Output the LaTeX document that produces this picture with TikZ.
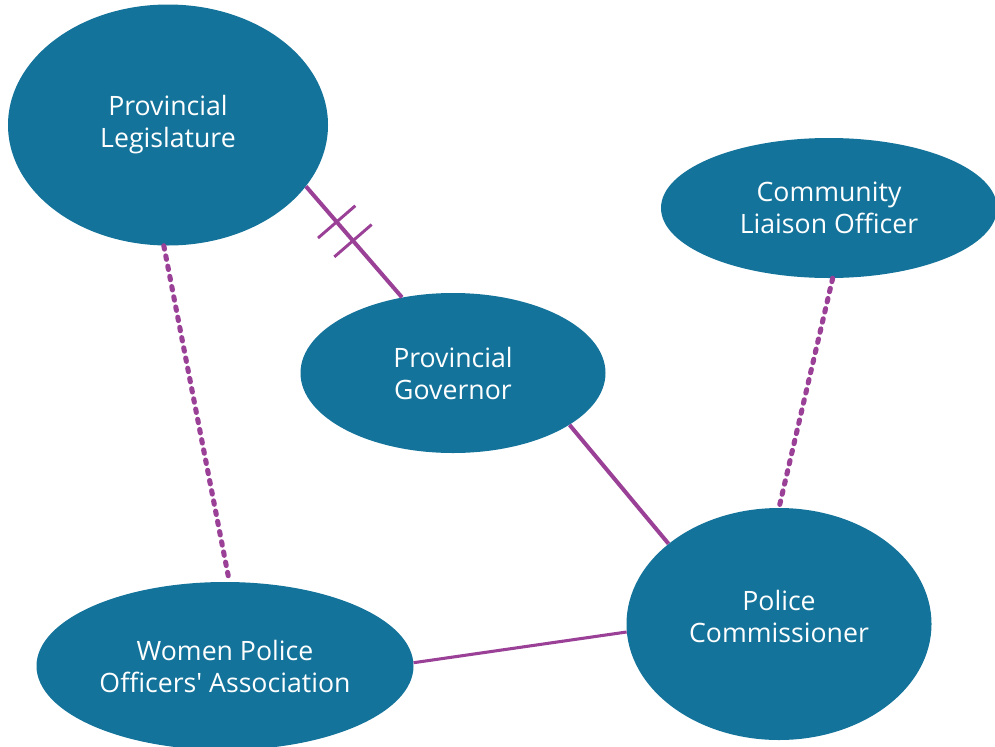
\documentclass[tikz,border=0pt]{standalone}
\usepackage{fontspec}
\setmainfont{Open Sans}
\usetikzlibrary{shapes.geometric,decorations.markings}

\definecolor{bodyblue}{RGB}{19,115,154}
\definecolor{linkpurple}{RGB}{154,64,150}

\tikzset{
	actor/.style={ellipse,fill=bodyblue,draw=none,text=white,inner sep=0pt,
		align=center,font=\fontsize{20}{24}\selectfont},
	link/.style={line width=3pt,linkpurple},
	thinlink/.style={line width=2.3pt,linkpurple},
	dotlink/.style={line width=3.8pt,linkpurple,line cap=round,dash pattern=on 2.6pt off 5.2pt},
	twobars/.style={postaction={decorate},decoration={markings,
		mark=at position 0.32 with {\draw[line width=2.2pt,linkpurple] (0,-18.5pt)--(0,18.5pt);},
		mark=at position 0.49 with {\draw[line width=2.2pt,linkpurple] (0,-18.5pt)--(0,18.5pt);}}}
}

\begin{document}
\begin{tikzpicture}[x=0.75pt,y=-0.75pt]
	\clip (0,0) rectangle (995,746);

	\coordinate (LEGc) at (168,125);
	\coordinate (CLOc) at (829,208);
	\coordinate (GOVc) at (453,373);
	\coordinate (COMc) at (779,624);
	\coordinate (WPOc) at (225,666);

	\node[actor,minimum width=240pt,minimum height=180.75pt] (leg) at (LEGc) {Provincial\\Legislature};
	\node[actor,minimum width=252pt,minimum height=105pt] (clo) at (CLOc) {Community\\Liaison Officer};
	\node[actor,minimum width=228.75pt,minimum height=120pt] (gov) at (GOVc) {Provincial\\Governor};
	\node[actor,minimum width=228.75pt,minimum height=174pt,text depth=12pt] (com) at (COMc) {Police\\Commissioner};
	\node[actor,minimum width=282.75pt,minimum height=126pt] (wpo) at (WPOc) {Women Police\\Officers\textquotesingle{} Association};

	\draw[link,twobars](leg.-24)--(gov.124);
	\draw[link](gov.-24)--(com.144);
	\draw[thinlink](wpo.1)--(com.183);

	\draw[dotlink](leg.-92)--(wpo.87);
	\draw[dotlink](clo.-87)--(com.90);

\end{tikzpicture}
\end{document}
